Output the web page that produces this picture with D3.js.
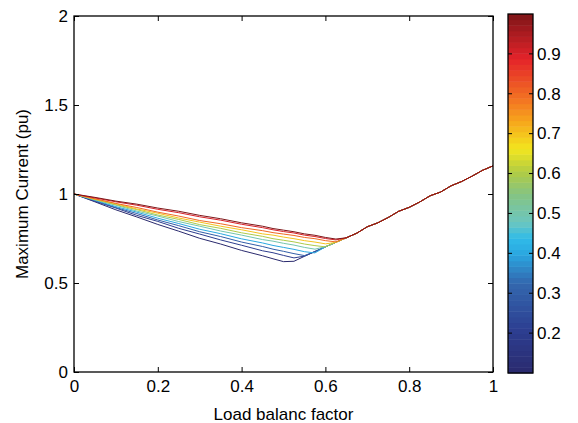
<!DOCTYPE html>
<html>
<head>
<meta charset="utf-8">
<script src="https://cdn.jsdelivr.net/npm/d3@7"></script>
<style>
    body { margin: 0; background: #fff; }
    svg { display: block; font-family: "Liberation Sans", Arial, sans-serif; }
</style>
</head>
<body>
<svg id="chart" width="578" height="423"></svg>
<script>
// Load balance factor where the curves still differ
const loadFactorLeft = [0, 0.05, 0.1, 0.15, 0.2, 0.25, 0.3, 0.35, 0.4, 0.45, 0.475, 0.5, 0.525, 0.55, 0.575, 0.6, 0.625];

// Maximum current (pu) per colour level
const current01 = [1.000, 0.956, 0.911, 0.871, 0.829, 0.791, 0.751, 0.719, 0.683, 0.653, 0.636, 0.620, 0.622, 0.650, 0.677, 0.703, 0.729];
const current02 = [1.000, 0.959, 0.921, 0.880, 0.846, 0.807, 0.775, 0.742, 0.712, 0.681, 0.670, 0.655, 0.641, 0.651, 0.676, 0.703, 0.729];
const current03 = [1.000, 0.962, 0.924, 0.890, 0.854, 0.822, 0.788, 0.761, 0.730, 0.705, 0.690, 0.678, 0.665, 0.654, 0.677, 0.703, 0.729];
const current04 = [1.000, 0.965, 0.929, 0.898, 0.864, 0.834, 0.802, 0.777, 0.748, 0.725, 0.711, 0.700, 0.689, 0.676, 0.669, 0.703, 0.729];
const current05 = [1.000, 0.967, 0.937, 0.904, 0.876, 0.845, 0.819, 0.792, 0.769, 0.744, 0.735, 0.723, 0.713, 0.700, 0.690, 0.704, 0.729];
const current06 = [1.000, 0.969, 0.940, 0.912, 0.882, 0.857, 0.828, 0.807, 0.782, 0.762, 0.749, 0.740, 0.731, 0.719, 0.710, 0.703, 0.729];
const current07 = [1.000, 0.971, 0.945, 0.916, 0.892, 0.865, 0.842, 0.819, 0.799, 0.776, 0.769, 0.758, 0.749, 0.738, 0.730, 0.720, 0.728];
const current08 = [1.000, 0.973, 0.947, 0.924, 0.898, 0.876, 0.851, 0.833, 0.811, 0.794, 0.783, 0.775, 0.767, 0.756, 0.749, 0.738, 0.731];
const current09 = [1.000, 0.978, 0.956, 0.937, 0.914, 0.895, 0.872, 0.853, 0.830, 0.811, 0.799, 0.789, 0.781, 0.769, 0.761, 0.750, 0.742];
const current10 = [1.000, 0.981, 0.960, 0.943, 0.921, 0.903, 0.880, 0.861, 0.838, 0.819, 0.806, 0.797, 0.788, 0.776, 0.768, 0.756, 0.747];

// Common rising branch once all curves have merged
const loadFactorRight = [0.65, 0.675, 0.7, 0.725, 0.75, 0.775, 0.8, 0.825, 0.85, 0.875, 0.9, 0.925, 0.95, 0.975, 1.0];
const currentRise = [0.754, 0.780, 0.816, 0.838, 0.868, 0.903, 0.925, 0.955, 0.990, 1.011, 1.046, 1.070, 1.100, 1.133, 1.158];

// Colour level of each curve
const levels = [0.1, 0.2, 0.3, 0.4, 0.5, 0.6, 0.7, 0.8, 0.9, 1.0];
const seriesValues = [current01, current02, current03, current04, current05, current06, current07, current08, current09, current10];

// Tick labels
const xTicks = [0, 0.2, 0.4, 0.6, 0.8, 1];
const yTicks = [0, 0.5, 1, 1.5, 2];
const colorbarTicks = [0.2, 0.3, 0.4, 0.5, 0.6, 0.7, 0.8, 0.9];


/**
 * Jet-like chart with a colour bar
 *
 * @param element
 * @constructor
 */
function CurrentChart(element) {
    // Svg Element in the document
    this.element = element;

    // Chart svg
    this.svg = null;


    /**
     * Initializes the chart
     */
    this.init = function () {
        // Clear chart element
        this.element.innerHTML = "";

        this.setup();
        this.drawLines();
        this.drawAxes();
        this.drawColorbar();
    };


    /**
     * Setup scales and the colour map
     */
    this.setup = function () {
        let me = this;

        me.svg = d3.select(me.element);

        me.x = d3.scaleLinear().domain([0, 1]).range([74, 493]);
        me.y = d3.scaleLinear().domain([0, 2]).range([372, 16]);

        // Colour map as it looks in the picture (muted jet)
        me.colormap = d3.scaleLinear()
            .domain([0, 0.125, 0.25, 0.33, 0.375, 0.42, 0.5, 0.56, 0.625, 0.7, 0.75, 0.875, 1])
            .range(["#2a2a6e", "#2d3f92", "#3367ae", "#2aa6e0", "#30bbe8", "#6cc6c0", "#86c481",
                    "#b1cc44", "#f3e61e", "#f6a71c", "#f47d21", "#e4232a", "#7e1518"])
            .interpolate(d3.interpolateRgb);

        me.levelScale = d3.scaleLinear().domain([0.1, 1]).range([0, 1]);
    };


    /**
     * Draw one line per colour level
     */
    this.drawLines = function () {
        let me = this;

        me.svg.append("defs").append("clipPath")
            .attr("id", "clip")
            .append("rect")
            .attr("x", 74).attr("y", 16)
            .attr("width", 419).attr("height", 356);

        let line = d3.line()
            .x(d => me.x(d[0]))
            .y(d => me.y(d[1]));

        let rise = loadFactorRight.map((lf, i) => [lf, currentRise[i]]);

        me.svg.append("g")
            .attr("clip-path", "url(#clip)")
            .selectAll("path")
            .data(seriesValues)
            .join("path")
            .attr("fill", "none")
            .attr("stroke", (d, i) => me.colormap(me.levelScale(levels[i])))
            .attr("stroke-width", 1)
            .attr("d", d => line(loadFactorLeft.map((lf, i) => [lf, d[i]]).concat(rise)));
    };


    /**
     * Draw the box with inward ticks on all sides
     */
    this.drawAxes = function () {
        let me = this;
        let fmt = d => String(d);

        let bottom = me.svg.append("g")
            .attr("transform", "translate(0,372)")
            .call(d3.axisBottom(me.x).tickValues(xTicks).tickFormat(fmt).tickSize(-5).tickSizeOuter(0).tickPadding(8));
        let left = me.svg.append("g")
            .attr("transform", "translate(74,0)")
            .call(d3.axisLeft(me.y).tickValues(yTicks).tickFormat(fmt).tickSize(-5).tickSizeOuter(0).tickPadding(6));
        let top = me.svg.append("g")
            .attr("transform", "translate(0,16)")
            .call(d3.axisTop(me.x).tickValues(xTicks).tickFormat("").tickSize(-5).tickSizeOuter(0));
        let right = me.svg.append("g")
            .attr("transform", "translate(493,0)")
            .call(d3.axisRight(me.y).tickValues(yTicks).tickFormat("").tickSize(-5).tickSizeOuter(0));

        [bottom, left, top, right].forEach(g => {
            g.select(".domain").remove();
            g.selectAll("line").attr("stroke", "#000").attr("stroke-width", 1);
            g.selectAll("text").attr("fill", "#000").attr("font-size", "17px")
                .attr("font-family", "'Liberation Sans', Arial, sans-serif");
        });

        me.svg.append("rect")
            .attr("x", 74).attr("y", 16)
            .attr("width", 419).attr("height", 356)
            .attr("fill", "none")
            .attr("stroke", "#000")
            .attr("stroke-width", 1.3);

        // Axis titles
        me.svg.append("text")
            .attr("x", 283.5).attr("y", 420)
            .attr("text-anchor", "middle")
            .attr("font-size", "17px")
            .text("Load balanc factor");

        me.svg.append("text")
            .attr("transform", "translate(28,194) rotate(-90)")
            .attr("text-anchor", "middle")
            .attr("font-size", "17px")
            .text("Maximum Current (pu)");
    };


    /**
     * Draw the colour bar on the right
     */
    this.drawColorbar = function () {
        let me = this;
        let x0 = 508, x1 = 533;
        let c = d3.scaleLinear().domain([0.1, 1]).range([373, 14]);
        let bands = d3.range(64);
        let step = 0.9 / 64;

        me.svg.append("g")
            .selectAll("rect")
            .data(bands)
            .join("rect")
            .attr("x", x0)
            .attr("width", x1 - x0)
            .attr("y", d => c(0.1 + (d + 1) * step))
            .attr("height", d => c(0.1 + d * step) - c(0.1 + (d + 1) * step) + 0.5)
            .attr("fill", d => me.colormap((d + 0.5) / 64));

        me.svg.append("rect")
            .attr("x", x0).attr("y", 14)
            .attr("width", x1 - x0).attr("height", 359)
            .attr("fill", "none")
            .attr("stroke", "#000")
            .attr("stroke-width", 1.3);

        let ticks = me.svg.append("g").selectAll("g")
            .data(colorbarTicks)
            .join("g")
            .attr("transform", d => "translate(0," + c(d) + ")");

        ticks.append("line").attr("x1", x0).attr("x2", x0 + 4).attr("stroke", "#000");
        ticks.append("line").attr("x1", x1 - 4).attr("x2", x1).attr("stroke", "#000");
        ticks.append("text")
            .attr("x", 537)
            .attr("dy", "0.34em")
            .attr("font-size", "17px")
            .text(d => String(d));
    };


    // Init the chart
    this.init();
}

new CurrentChart(document.getElementById("chart"));
</script>
</body>
</html>
